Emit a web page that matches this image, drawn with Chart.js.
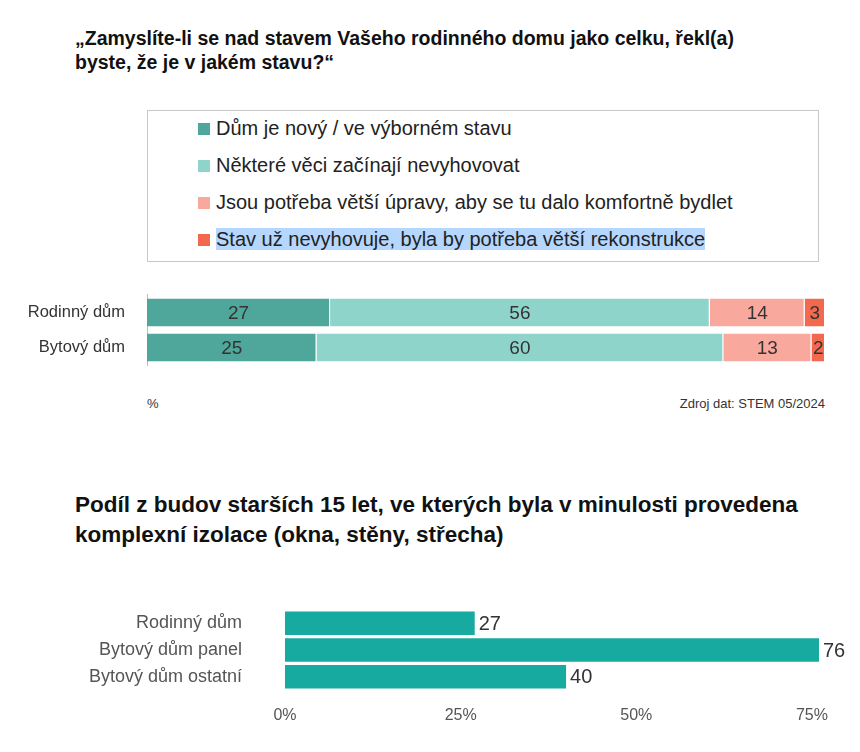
<!DOCTYPE html>
<html><head><meta charset="utf-8">
<script src="https://cdn.jsdelivr.net/npm/chart.js@4/dist/chart.umd.min.js"></script>
<style>
body{margin:0;width:860px;height:752px;background:#fff;font-family:"Liberation Sans",Arial,sans-serif;position:relative;overflow:hidden}
.t{position:absolute;font-weight:bold;color:#111}
#legend{position:absolute;left:147px;top:110px;width:672px;height:152px;border:1px solid #c8c8c8;box-sizing:border-box}
.li{position:absolute;left:50px;font-size:20px;color:#222;white-space:nowrap}
.sw{display:inline-block;width:12px;height:12px;margin-right:6px;vertical-align:0px}
.note{position:absolute;font-size:13px;color:#333}
</style></head><body>
<div class="t" style="left:75px;top:26px;font-size:19.5px;line-height:24px">„Zamyslíte-li se nad stavem Vašeho rodinného domu jako celku, řekl(a)<br>byste, že je v jakém stavu?“</div>
<div id="legend"></div>
<canvas id="c1" width="860" height="118" style="position:absolute;left:0;top:271px"></canvas>
<div class="note" style="left:147px;top:396px">%</div>
<div class="note" style="left:660px;top:396px;width:165px;text-align:right">Zdroj dat: STEM 05/2024</div>
<div class="t" style="left:75px;top:490px;font-size:22.5px;line-height:30px">Podíl z budov starších 15 let, ve kterých byla v minulosti provedena<br>komplexní izolace (okna, stěny, střecha)</div>
<canvas id="c2" width="860" height="172" style="position:absolute;left:0;top:564px"></canvas>
<script>
const stateCategories = ['Rodinný dům', 'Bytový dům'];
const stateSeries = ['Dům je nový / ve výborném stavu', 'Některé věci začínají nevyhovovat', 'Jsou potřeba větší úpravy, aby se tu dalo komfortně bydlet', 'Stav už nevyhovuje, byla by potřeba větší rekonstrukce'];
const stateValues = [[27, 25], [56, 60], [14, 13], [3, 2]];
const stateColors = ['#4fa69b', '#8fd4ca', '#f8a89c', '#f2694f'];

const insulCategories = ['Rodinný dům', 'Bytový dům panel', 'Bytový dům ostatní'];
const insulValues = [27, 76, 40];
const insulTicks = [0, 25, 50, 75];

// legenda
const leg = document.getElementById('legend');
const tops = [6, 43, 80, 117];
stateSeries.forEach((s, i) => {
  const d = document.createElement('div');
  d.className = 'li';
  d.style.top = tops[i] + 'px';
  const txt = i === 3 ? '<span style="background:#b5d6fd">' + s + '</span>' : s;
  d.innerHTML = '<span class="sw" style="background:' + stateColors[i] + '"></span>' + txt;
  leg.appendChild(d);
});

const labelPlugin = {
  id: 'labels',
  afterDatasetsDraw(chart, args, opts) {
    const ctx = chart.ctx;
    ctx.save();
    ctx.fillStyle = '#333';
    ctx.font = opts.font;
    ctx.textBaseline = 'middle';
    chart.data.datasets.forEach((ds, di) => {
      chart.getDatasetMeta(di).data.forEach((bar, i) => {
        const v = ds.data[i];
        if (opts.outside) {
          ctx.textAlign = 'left';
          ctx.fillText(v, bar.x + 4, bar.y + 1);
        } else {
          ctx.textAlign = 'center';
          ctx.fillText(v, (bar.x + bar.base) / 2, bar.y + 1);
        }
      });
    });
    ctx.restore();
  }
};

new Chart(document.getElementById('c1'), {
  type: 'bar',
  data: {
    labels: stateCategories,
    datasets: stateSeries.map((s, i) => ({
      label: s, data: stateValues[i], backgroundColor: stateColors[i],
      borderColor: '#fff', borderWidth: { left: 0, right: 1, top: 0, bottom: 0 },
      barPercentage: 0.8, categoryPercentage: 1
    }))
  },
  options: {
    indexAxis: 'y', responsive: false, animation: false,
    layout: { padding: { right: 35 } },
    plugins: { legend: { display: false }, tooltip: { enabled: false },
      labels: { font: '19px "Liberation Sans", Arial' } },
    scales: {
      x: { stacked: true, min: 0, max: 100, display: false },
      y: { stacked: true, grid: { display: false }, border: { color: '#bbb' },
        ticks: { color: '#333', padding: 14, font: { size: 16.5, family: 'Liberation Sans' } },
        afterFit: s => { s.width = 147; } }
    }
  },
  plugins: [labelPlugin]
});

new Chart(document.getElementById('c2'), {
  type: 'bar',
  data: {
    labels: insulCategories,
    datasets: [{ data: insulValues, backgroundColor: '#17aaa0', barPercentage: 0.88, categoryPercentage: 1 }]
  },
  options: {
    indexAxis: 'y', responsive: false, animation: false,
    layout: { padding: { right: 37.5, top: 10 } },
    plugins: { legend: { display: false }, tooltip: { enabled: false },
      labels: { outside: true, font: '20px "Liberation Sans", Arial' } },
    scales: {
      x: { min: 0, max: 76.5, grid: { display: false }, border: { display: false },
        afterBuildTicks: s => { s.ticks = insulTicks.map(v => ({ value: v })); },
        ticks: { color: '#555', padding: 8, maxRotation: 0, font: { size: 16, family: 'Liberation Sans' }, callback: v => v + '%' } },
      y: { grid: { display: false }, border: { display: false },
        ticks: { color: '#555', padding: 35, font: { size: 18, family: 'Liberation Sans' } },
        afterFit: s => { s.width = 285; } }
    }
  },
  plugins: [labelPlugin]
});
</script>
</body></html>
